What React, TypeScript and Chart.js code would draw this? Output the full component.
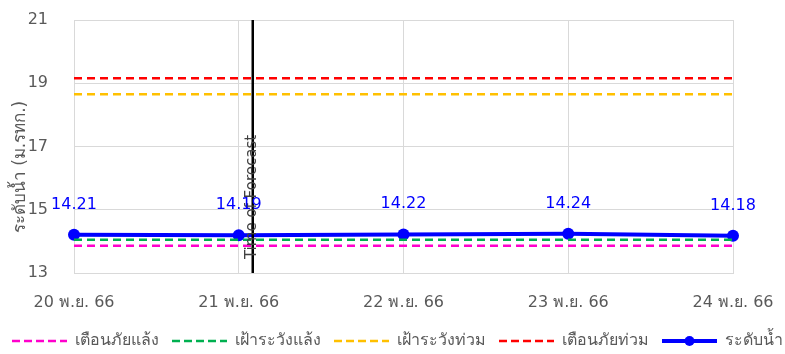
import React, { useEffect, useRef } from "react";
import { Chart, registerables } from "chart.js";

Chart.register(...registerables);

const categories = ["20 พ.ย. 66", "21 พ.ย. 66", "22 พ.ย. 66", "23 พ.ย. 66", "24 พ.ย. 66"];
const droughtWarning = [13.86, 13.86, 13.86, 13.86, 13.86];
const droughtWatch = [14.05, 14.05, 14.05, 14.05, 14.05];
const floodWatch = [18.65, 18.65, 18.65, 18.65, 18.65];
const floodWarning = [19.16, 19.16, 19.16, 19.16, 19.16];
const waterLevel = [14.21, 14.19, 14.22, 14.24, 14.18];
const forecastPosition = 1.085;
const yTitle = "ระดับน้ำ (ม.รทก.)";
const forecastLabel = "Time of Forecast";

const FONT = 'Tahoma, "DejaVu Sans", "Noto Sans", sans-serif';
const GRAY = "#595959";

const legendItems = [
  { label: "เตือนภัยแล้ง", color: "#FF00CC", dash: true },
  { label: "เฝ้าระวังแล้ง", color: "#00B050", dash: true },
  { label: "เฝ้าระวังท่วม", color: "#FFC000", dash: true },
  { label: "เตือนภัยท่วม", color: "#FF0000", dash: true },
  { label: "ระดับน้ำ", color: "#0000FF", dash: false },
];

const overlayPlugin = {
  id: "overlay",
  afterDatasetsDraw(chart: any) {
    const ctx = chart.ctx;
    const x = chart.scales.x;
    const area = chart.chartArea;
    // forecast line
    const fx = x.getPixelForValue(forecastPosition);
    ctx.save();
    ctx.strokeStyle = "#000000";
    ctx.lineWidth = 2.5;
    ctx.beginPath();
    ctx.moveTo(fx, area.top);
    ctx.lineTo(fx, area.bottom);
    ctx.stroke();
    ctx.translate(fx - 1, 197);
    ctx.rotate(-Math.PI / 2);
    ctx.fillStyle = "#404040";
    ctx.font = `15px ${FONT}`;
    ctx.textAlign = "center";
    ctx.textBaseline = "middle";
    ctx.fillText(forecastLabel, 0, 0);
    ctx.restore();

    // data labels
    const meta = chart.getDatasetMeta(4);
    ctx.save();
    ctx.fillStyle = "#0000FF";
    ctx.font = `16px ${FONT}`;
    ctx.textAlign = "center";
    ctx.textBaseline = "alphabetic";
    meta.data.forEach((pt: any, i: number) => {
      ctx.fillText(waterLevel[i].toFixed(2), pt.x, pt.y - 26);
    });
    ctx.restore();

    // y title
    ctx.save();
    ctx.translate(21, 167);
    ctx.rotate(-Math.PI / 2);
    ctx.fillStyle = GRAY;
    ctx.font = `17px ${FONT}`;
    ctx.textAlign = "center";
    ctx.textBaseline = "middle";
    ctx.fillText(yTitle, 0, 0);
    ctx.restore();

    // legend
    ctx.save();
    ctx.font = `16px ${FONT}`;
    const lineLen = 55;
    const gapLT = 8;
    const gapItem = 13;
    const widths = legendItems.map((it) => ctx.measureText(it.label).width);
    let total = 0;
    widths.forEach((w, i) => {
      total += lineLen + gapLT + w + (i < widths.length - 1 ? gapItem : 0);
    });
    let cx = (chart.width - total) / 2 + 5;
    const ly = 341;
    legendItems.forEach((it, i) => {
      ctx.strokeStyle = it.color;
      ctx.beginPath();
      if (it.dash) {
        ctx.lineWidth = 2.5;
        ctx.setLineDash([8, 4]);
      } else {
        ctx.lineWidth = 4;
        ctx.setLineDash([]);
      }
      ctx.moveTo(cx, ly);
      ctx.lineTo(cx + lineLen, ly);
      ctx.stroke();
      ctx.setLineDash([]);
      if (!it.dash) {
        ctx.fillStyle = it.color;
        ctx.beginPath();
        ctx.arc(cx + lineLen / 2, ly, 5, 0, Math.PI * 2);
        ctx.fill();
      }
      ctx.fillStyle = GRAY;
      ctx.textAlign = "left";
      ctx.textBaseline = "middle";
      ctx.fillText(it.label, cx + lineLen + gapLT, ly);
      cx += lineLen + gapLT + widths[i] + gapItem;
    });
    ctx.restore();
  },
};

function dashed(label: string, data: number[], color: string) {
  return {
    label,
    data,
    borderColor: color,
    backgroundColor: color,
    borderWidth: 2.5,
    borderDash: [8, 5],
    pointRadius: 0,
    fill: false,
  };
}

export default function App() {
  const ref = useRef<HTMLCanvasElement>(null);
  useEffect(() => {
    document.body.style.margin = "0";
    const chart = new Chart(ref.current!, {
      type: "line",
      data: {
        labels: categories,
        datasets: [
          dashed("เตือนภัยแล้ง", droughtWarning, "#FF00CC"),
          dashed("เฝ้าระวังแล้ง", droughtWatch, "#00B050"),
          dashed("เฝ้าระวังท่วม", floodWatch, "#FFC000"),
          dashed("เตือนภัยท่วม", floodWarning, "#FF0000"),
          {
            label: "ระดับน้ำ",
            data: waterLevel,
            borderColor: "#0000FF",
            backgroundColor: "#0000FF",
            borderWidth: 4,
            pointRadius: 6,
            pointBackgroundColor: "#0000FF",
            pointBorderWidth: 0,
            fill: false,
          } as any,
        ],
      },
      options: {
        animation: false,
        responsive: false,
        layout: { padding: { top: 20, right: 52, left: 0, bottom: 0 } },
        plugins: { legend: { display: false }, tooltip: { enabled: false } },
        scales: {
          x: {
            offset: false,
            grid: { color: "#D9D9D9", drawTicks: false, lineWidth: 1 },
            border: { color: "#D9D9D9" },
            ticks: { color: GRAY, font: { size: 16, family: FONT }, padding: 20, maxRotation: 0 },
            afterFit(scale: any) {
              scale.height = 81;
              scale.paddingLeft = 0;
              scale.paddingRight = 0;
            },
          },
          y: {
            min: 13,
            max: 21,
            grid: { color: "#D9D9D9", drawTicks: false, lineWidth: 1 },
            border: { color: "#D9D9D9" },
            ticks: { stepSize: 2, color: GRAY, font: { size: 16, family: FONT }, padding: 26 },
            afterFit(scale: any) {
              scale.width = 74;
              scale.paddingTop = 0;
              scale.paddingBottom = 0;
            },
          },
        },
      },
      plugins: [overlayPlugin],
    });
    return () => chart.destroy();
  }, []);
  return <canvas ref={ref} width={785} height={354} style={{ display: "block" }} />;
}
